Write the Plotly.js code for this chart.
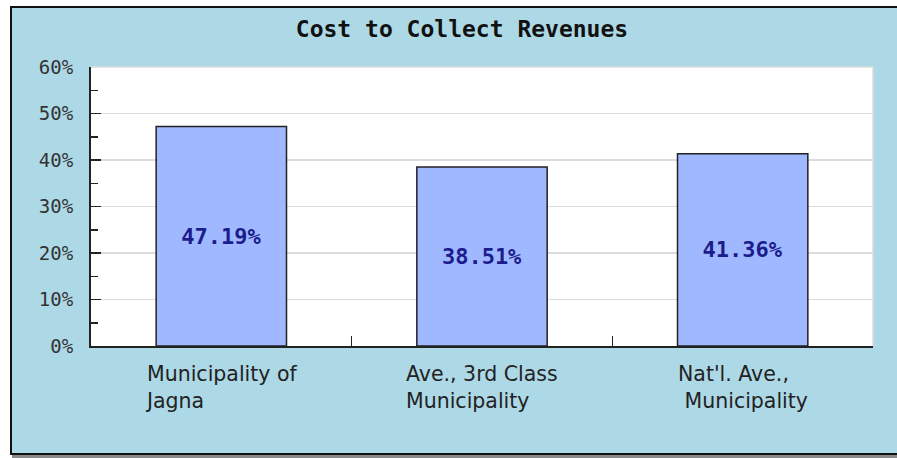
<!DOCTYPE html>
<html>
<head>
<meta charset="utf-8">
<script src="https://cdn.plot.ly/plotly-3.0.1.min.js"></script>
<style>
  html, body { margin: 0; padding: 0; background: #ffffff; width: 897px; height: 458px; overflow: hidden; }
  #frame {
    position: absolute; left: 10px; top: 6px;
    width: 900px; height: 445px;
    border: 2px solid #111111;
    background: #add8e6;
    box-shadow: 2px 3px 0px #8a8a8a;
  }
  #chart { width: 900px; height: 445px; }
</style>
</head>
<body>
<div id="frame"><div id="chart"></div></div>
<script>
// ---- data ----
const categories = ["Municipality of<br>Jagna", "Ave., 3rd Class<br>Municipality", "Nat'l. Ave.,<br>\u00a0Municipality"];
const costPercent = [47.19, 38.51, 41.36];
const valueLabels = ["47.19%", "38.51%", "41.36%"];
const chartTitle = "Cost to Collect Revenues";

const trace = {
  type: 'bar',
  x: categories,
  y: costPercent,
  text: valueLabels,
  textposition: 'inside',
  insidetextanchor: 'middle',
  textangle: 0,
  constraintext: 'none',
  textfont: { family: 'DejaVu Sans Mono, Liberation Mono, monospace', size: 22, color: '#1c1c8c', weight: 'bold' },
  marker: { color: '#a0b8ff', line: { color: '#222222', width: 1.5 } },
  hoverinfo: 'skip'
};

const annotations = categories.map(c => ({
  x: c, xref: 'x', y: 0, yref: 'paper',
  yanchor: 'top', xanchor: 'center', yshift: -14,
  text: c, align: 'left', showarrow: false,
  font: { family: 'DejaVu Sans, Verdana, sans-serif', size: 20.5, color: '#222222' }
}));

const layout = {
  width: 900, height: 445,
  margin: { l: 79, r: 39, t: 59, b: 107 },
  paper_bgcolor: '#add8e6',
  plot_bgcolor: '#ffffff',
  showlegend: false,
  bargap: 0.5,
  title: {
    text: '<b>' + chartTitle + '</b>',
    x: 0.5, xref: 'container', xanchor: 'center',
    y: 1 - 21/445, yref: 'container', yanchor: 'middle',
    font: { family: 'DejaVu Sans Mono, Liberation Mono, monospace', size: 23, color: '#111111' }
  },
  xaxis: {
    type: 'category',
    showticklabels: false,
    tickson: 'boundaries',
    ticks: 'inside', ticklen: 10, tickwidth: 1.5, tickcolor: '#222222',
    showline: true, linecolor: '#222222', linewidth: 2,
    showgrid: false, zeroline: false, fixedrange: true
  },
  yaxis: {
    range: [0, 60], dtick: 10, ticksuffix: '%',
    ticks: 'inside', ticklen: 10, tickwidth: 1.5, tickcolor: '#222222',
    minor: { dtick: 5, ticks: 'inside', ticklen: 7, tickwidth: 1.5, tickcolor: '#222222', showgrid: false },
    ticklabelstandoff: 12,
    showline: true, linecolor: '#222222', linewidth: 2,
    showgrid: true, gridcolor: '#dcdcdc', gridwidth: 1.5,
    zeroline: false, fixedrange: true,
    tickfont: { family: 'DejaVu Sans Mono, Liberation Mono, monospace', size: 19, color: '#333333' }
  },
  shapes: [
    { type: 'line', xref: 'paper', yref: 'paper', x0: 1, x1: 1, y0: 0, y1: 1, line: { color: '#dddddd', width: 1.5 } },
    { type: 'line', xref: 'paper', yref: 'paper', x0: 0, x1: 1, y0: 1, y1: 1, line: { color: '#dddddd', width: 1.5 } }
  ],
  annotations: annotations
};

Plotly.newPlot('chart', [trace], layout, { displayModeBar: false, staticPlot: true });
</script>
</body>
</html>
